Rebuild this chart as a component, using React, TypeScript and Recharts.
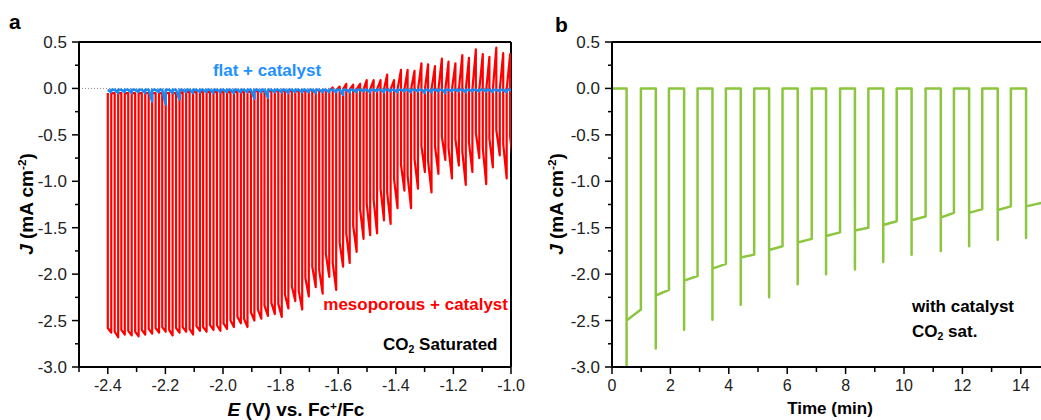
import { LineChart, Line, XAxis, YAxis, ReferenceLine } from "recharts";

const FONT = '"Liberation Sans", Arial, Helvetica, sans-serif';

// ---- panel a: chopped-light LSV, one entry per light pulse ----
const chopOn = [
  -2.4, -2.376, -2.353, -2.329, -2.305, -2.282, -2.258, -2.234, -2.211, -2.187,
  -2.163, -2.14, -2.116, -2.092, -2.069, -2.045, -2.021, -1.998, -1.974, -1.95,
  -1.927, -1.903, -1.879, -1.856, -1.832, -1.808, -1.785, -1.761, -1.737, -1.714,
  -1.69, -1.666, -1.643, -1.619, -1.595, -1.572, -1.548, -1.524, -1.501, -1.477,
  -1.453, -1.43, -1.406, -1.382, -1.359, -1.335, -1.311, -1.288, -1.264, -1.24,
  -1.217, -1.193, -1.169, -1.146, -1.122, -1.098, -1.075, -1.051, -1.027, -1.003,
];
const lightOnWidth = 0.012;

// dark current (or positive overshoot) just before the light goes on
const mesoPeakJ = [
  -0.05, -0.05, -0.05, -0.05, -0.05, -0.05, -0.05, -0.05, -0.05, -0.05,
  -0.05, -0.04, -0.04, -0.04, -0.04, -0.04, -0.04, -0.04, -0.04, -0.04,
  -0.04, -0.03, -0.03, -0.03, -0.03, -0.03, -0.03, -0.03, -0.03, -0.02,
  -0.02, -0.02, -0.02, 0.01, 0.02, 0.05, 0.04, 0.05, 0.09, 0.09,
  0.09, 0.15, 0.09, 0.2, 0.2, 0.19, 0.27, 0.26, 0.24, 0.32,
  0.29, 0.27, 0.36, 0.33, 0.42, 0.37, 0.34, 0.44, 0.38, 0.37,
];
const mesoPlateauJ = [
  -2.58, -2.62, -2.6, -2.61, -2.62, -2.6, -2.59, -2.58, -2.57, -2.6,
  -2.58, -2.57, -2.59, -2.56, -2.57, -2.55, -2.55, -2.53, -2.5, -2.46,
  -2.48, -2.41, -2.38, -2.34, -2.31, -2.32, -2.22, -2.13, -2.18, -2.04,
  -1.92, -1.96, -1.78, -1.88, -1.66, -1.56, -1.48, -1.3, -1.24, -1.2,
  -1.08, -1.12, -0.98, -0.82, -0.94, -0.76, -0.62, -0.78, -0.62, -0.52,
  -0.64, -0.55, -0.68, -0.58, -0.48, -0.64, -0.54, -0.45, -0.6, -0.52,
];
const mesoTipJ = [
  -2.63, -2.68, -2.65, -2.66, -2.67, -2.65, -2.64, -2.63, -2.62, -2.66,
  -2.63, -2.62, -2.65, -2.61, -2.62, -2.6, -2.61, -2.59, -2.57, -2.53,
  -2.57, -2.5, -2.48, -2.45, -2.43, -2.46, -2.37, -2.29, -2.38, -2.24,
  -2.14, -2.21, -2.03, -2.17, -1.92, -1.88, -1.76, -1.62, -1.58, -1.56,
  -1.42, -1.46, -1.29, -1.1, -1.29, -1.08, -0.9, -1.12, -0.92, -0.77,
  -0.97, -0.83, -1.04, -0.9, -0.75, -1.03, -0.85, -0.72, -0.97, -0.85,
];
// dark current right after the light goes off
const mesoBaseJ = [
  -0.05, -0.05, -0.05, -0.05, -0.05, -0.05, -0.05, -0.05, -0.05, -0.05,
  -0.05, -0.04, -0.04, -0.04, -0.04, -0.04, -0.04, -0.04, -0.04, -0.04,
  -0.04, -0.03, -0.03, -0.03, -0.03, -0.03, -0.03, -0.03, -0.03, -0.02,
  -0.02, -0.02, -0.02, -0.02, -0.01, -0.01, -0.01, -0.01, -0.01, -0.01,
  -0.01, -0.01, -0.01, -0.01, -0.01, -0.01, -0.01, -0.01, -0.01, -0.01,
  -0.01, -0.01, -0.01, -0.01, -0.01, -0.01, -0.01, -0.01, -0.01, -0.01,
];
const flatDarkJ = -0.015;
const flatDipJ = [
  -0.04, -0.05, -0.04, -0.05, -0.04, -0.05, -0.14, -0.04, -0.17, -0.05,
  -0.12, -0.04, -0.05, -0.04, -0.04, -0.05, -0.04, -0.04, -0.05, -0.04,
  -0.04, -0.11, -0.04, -0.1, -0.04, -0.04, -0.05, -0.04, -0.04, -0.04,
  -0.05, -0.04, -0.04, -0.04, -0.07, -0.04, -0.04, -0.03, -0.04, -0.03,
  -0.04, -0.03, -0.04, -0.03, -0.04, -0.03, -0.05, -0.04, -0.03, -0.05,
  -0.03, -0.03, -0.04, -0.03, -0.03, -0.03, -0.04, -0.03, -0.04, -0.03,
];

const eTicks = [-2.5, -2.4, -2.3, -2.2, -2.1, -2.0, -1.9, -1.8, -1.7, -1.6, -1.5, -1.4, -1.3, -1.2, -1.1, -1.0];
const eLabels = [-2.4, -2.2, -2.0, -1.8, -1.6, -1.4, -1.2, -1.0];
const jTicks = [0.5, 0.25, 0, -0.25, -0.5, -0.75, -1, -1.25, -1.5, -1.75, -2, -2.25, -2.5, -2.75, -3];
const jLabels = [0.5, 0, -0.5, -1, -1.5, -2, -2.5, -3];

// ---- panel b: chronoamperometry with chopped light ----
const darkFromT = [0, 0.99, 1.95, 2.93, 3.9, 4.87, 5.84, 6.84, 7.81, 8.78, 9.75, 10.74, 11.71, 12.68, 13.66];
const lightOnT = [0.5, 1.5, 2.47, 3.44, 4.41, 5.38, 6.36, 7.33, 8.32, 9.29, 10.26, 11.26, 12.23, 13.21, 14.18];
const lightOffT = [0.99, 1.95, 2.93, 3.9, 4.87, 5.84, 6.84, 7.81, 8.78, 9.75, 10.74, 11.71, 12.68, 13.66, 14.75];
const spikeJ = [-3.05, -2.8, -2.6, -2.49, -2.33, -2.25, -2.11, -2.0, -1.95, -1.87, -1.79, -1.75, -1.7, -1.63, -1.61];
const plateauStartJ = [-2.5, -2.23, -2.07, -1.94, -1.82, -1.74, -1.66, -1.59, -1.53, -1.47, -1.42, -1.39, -1.34, -1.31, -1.27];
const plateauEndJ = [-2.38, -2.17, -2.02, -1.89, -1.79, -1.7, -1.62, -1.55, -1.5, -1.43, -1.38, -1.34, -1.3, -1.27, -1.23];

const tTicks = [0, 1, 2, 3, 4, 5, 6, 7, 8, 9, 10, 11, 12, 13, 14, 15];
const tLabels = [0, 2, 4, 6, 8, 10, 12, 14];

const mesoData: { e: number; j: number }[] = [];
chopOn.forEach((e, i) => {
  mesoData.push(
    { e, j: mesoPeakJ[i] },
    { e, j: mesoPlateauJ[i] },
    { e: e + lightOnWidth, j: mesoTipJ[i] },
    { e: e + lightOnWidth, j: mesoBaseJ[i] }
  );
});

const flatData: { e: number; j: number }[] = [];
chopOn.forEach((e, i) => {
  flatData.push({ e, j: flatDarkJ }, { e: e + lightOnWidth, j: flatDipJ[i] }, { e: e + lightOnWidth, j: flatDarkJ });
});

const chronoData: { t: number; j: number }[] = [];
lightOnT.forEach((t, i) => {
  chronoData.push(
    { t: darkFromT[i], j: 0 },
    { t, j: 0 },
    { t, j: spikeJ[i] },
    { t, j: plateauStartJ[i] },
    { t: lightOffT[i], j: plateauEndJ[i] },
    { t: lightOffT[i], j: 0 }
  );
});

const isMajor = (labels: number[], v: number) => labels.some((l) => Math.abs(l - v) < 1e-6);

const TICK = 7;
const GAP = 5;

function YTick(props: any) {
  const { x, y, payload, labels } = props;
  const axisX = x + TICK + GAP;
  const major = isMajor(labels, payload.value);
  return (
    <g>
      <line x1={axisX - (major ? TICK : 4)} x2={axisX} y1={y} y2={y} stroke="#000" strokeWidth={1.5} />
      {major && (
        <text x={x} y={y} dy="0.35em" textAnchor="end" fontSize={17} fill="#222" fontFamily={FONT}>
          {payload.value.toFixed(1)}
        </text>
      )}
    </g>
  );
}

function XTick(props: any) {
  const { x, y, payload, labels, digits } = props;
  const axisY = y - TICK - GAP;
  const major = isMajor(labels, payload.value);
  return (
    <g>
      <line x1={x} x2={x} y1={axisY} y2={axisY + (major ? TICK : 5)} stroke="#000" strokeWidth={1.5} />
      {major && (
        <text x={x} y={y} dy="0.72em" textAnchor="middle" fontSize={16} fill="#222" fontFamily={FONT}>
          {payload.value.toFixed(digits)}
        </text>
      )}
    </g>
  );
}

const Note = ({ style, children }: any) => (
  <div
    style={{
      position: "absolute",
      fontWeight: "bold",
      lineHeight: 1,
      whiteSpace: "nowrap",
      fontFamily: FONT,
      ...style,
    }}
  >
    {children}
  </div>
);

const supStyle = { fontSize: "0.62em", verticalAlign: "0.55em", lineHeight: 0 };
const subStyle = { fontSize: "0.62em", verticalAlign: "-0.3em", lineHeight: 0 };

const axisLine = { stroke: "#000", strokeWidth: 2 };

export default function App() {
  return (
    <div
      style={{
        position: "absolute",
        left: 0,
        top: 0,
        width: 1041,
        height: 420,
        overflow: "hidden",
        background: "#fff",
        fontFamily: FONT,
      }}
    >
      <div style={{ position: "absolute", left: 0, top: 0 }}>
        <LineChart width={530} height={420} margin={{ top: 42, right: 19, bottom: 0, left: 0 }}>
          <XAxis
            dataKey="e"
            type="number"
            domain={[-2.5, -1.0]}
            ticks={eTicks}
            interval={0}
            allowDataOverflow
            height={53}
            tickSize={TICK}
            tickMargin={GAP}
            tickLine={false}
            axisLine={axisLine}
            tick={(p: any) => <XTick {...p} labels={eLabels} digits={1} />}
          />
          <YAxis
            type="number"
            domain={[-3, 0.5]}
            ticks={jTicks}
            interval={0}
            allowDataOverflow
            width={79}
            tickSize={TICK}
            tickMargin={GAP}
            tickLine={false}
            axisLine={axisLine}
            tick={(p: any) => <YTick {...p} labels={jLabels} />}
          />
          <ReferenceLine y={0} stroke="#888" strokeDasharray="1 2" strokeWidth={1} />
          <ReferenceLine y={0.5} stroke="#000" strokeWidth={2} />
          <ReferenceLine x={-1.0} stroke="#000" strokeWidth={2} />
          <Line
            data={mesoData}
            dataKey="j"
            type="linear"
            stroke="#FF0000"
            strokeWidth={2.2}
            strokeLinejoin="round"
            dot={false}
            activeDot={false}
            isAnimationActive={false}
          />
          <Line
            data={flatData}
            dataKey="j"
            type="linear"
            stroke="#1E88F0"
            strokeWidth={2.6}
            strokeLinejoin="round"
            dot={false}
            activeDot={false}
            isAnimationActive={false}
          />
        </LineChart>
      </div>

      <div style={{ position: "absolute", left: 530, top: 0 }}>
        <LineChart width={530} height={420} margin={{ top: 42, right: 10, bottom: 0, left: 0 }}>
          <XAxis
            dataKey="t"
            type="number"
            domain={[0, 15]}
            ticks={tTicks}
            interval={0}
            allowDataOverflow
            height={53}
            tickSize={TICK}
            tickMargin={GAP}
            tickLine={false}
            axisLine={axisLine}
            tick={(p: any) => <XTick {...p} labels={tLabels} digits={0} />}
          />
          <YAxis
            type="number"
            domain={[-3, 0.5]}
            ticks={jTicks}
            interval={0}
            allowDataOverflow
            width={82}
            tickSize={TICK}
            tickMargin={GAP}
            tickLine={false}
            axisLine={axisLine}
            tick={(p: any) => <YTick {...p} labels={jLabels} />}
          />
          <ReferenceLine y={0.5} stroke="#000" strokeWidth={2} />
          <Line
            data={chronoData}
            dataKey="j"
            type="linear"
            stroke="#8CC63F"
            strokeWidth={2.5}
            strokeLinejoin="round"
            dot={false}
            activeDot={false}
            isAnimationActive={false}
          />
        </LineChart>
      </div>

      {/* panel letters */}
      <Note style={{ left: 9, top: 11, fontSize: 21 }}>a</Note>
      <Note style={{ left: 555, top: 14, fontSize: 21 }}>b</Note>

      {/* annotations */}
      <Note style={{ left: 267, top: 62, fontSize: 17, color: "#1E90FF", transform: "translateX(-50%)" }}>
        flat + catalyst
      </Note>
      <Note style={{ right: 1041 - 508, top: 296, fontSize: 17, color: "#FF0000" }}>mesoporous + catalyst</Note>
      <Note style={{ left: 383, top: 336, fontSize: 17 }}>
        CO<sub style={subStyle}>2</sub> Saturated
      </Note>
      <Note style={{ left: 912, top: 298, fontSize: 17 }}>with catalyst</Note>
      <Note style={{ left: 912, top: 323, fontSize: 17 }}>
        CO<sub style={subStyle}>2</sub> sat.
      </Note>

      {/* axis titles */}
      <Note style={{ left: 296, top: 400, fontSize: 19, transform: "translateX(-50%)" }}>
        <i>E</i> (V) vs. Fc<sup style={supStyle}>+</sup>/Fc
      </Note>
      <Note style={{ left: 830, top: 400, fontSize: 17, transform: "translateX(-50%)" }}>Time (min)</Note>
      <Note style={{ left: 26, top: 204, fontSize: 19, transform: "translate(-50%, -50%) rotate(-90deg)" }}>
        <i>J</i> (mA cm<sup style={supStyle}>-2</sup>)
      </Note>
      <Note style={{ left: 556, top: 204, fontSize: 19, transform: "translate(-50%, -50%) rotate(-90deg)" }}>
        <i>J</i> (mA cm<sup style={supStyle}>-2</sup>)
      </Note>
    </div>
  );
}
